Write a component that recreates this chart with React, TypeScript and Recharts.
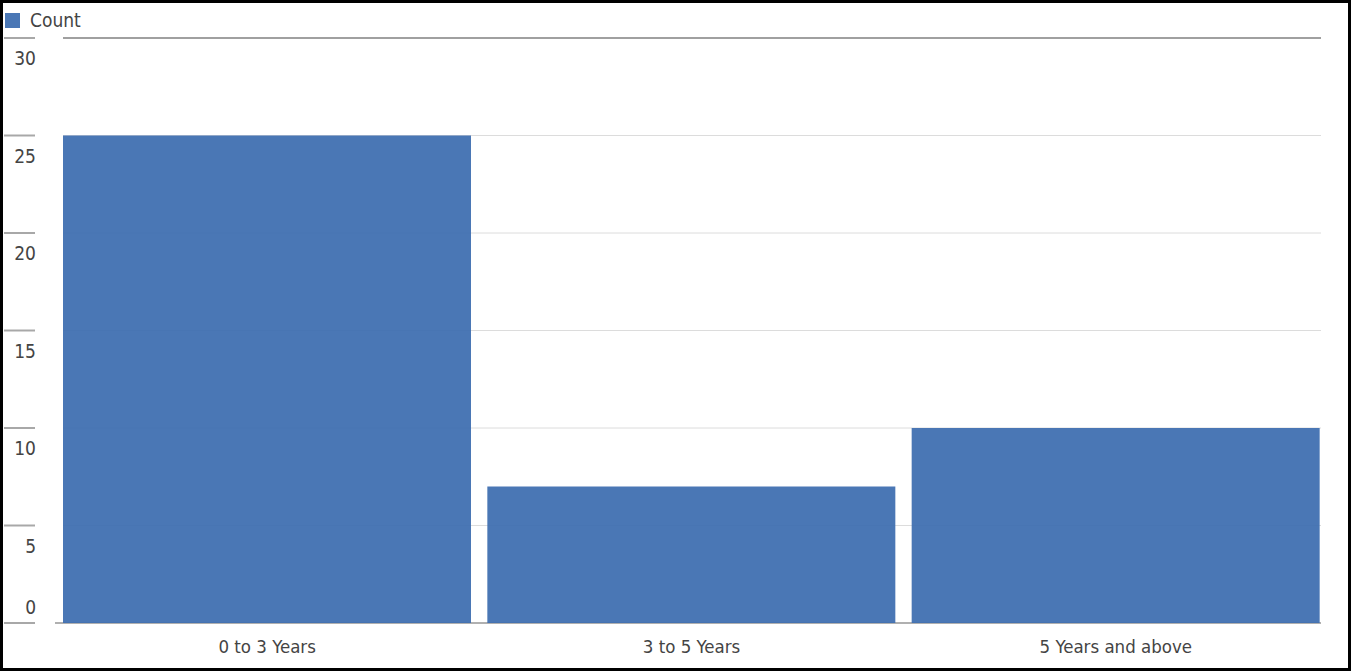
import { BarChart, Bar, XAxis, YAxis, CartesianGrid, Legend } from "recharts";

const categories = ["0 to 3 Years", "3 to 5 Years", "5 Years and above"];
const counts = [25, 7, 10];
const yTicks = [0, 5, 10, 15, 20, 25, 30];

const data = categories.map((name, i) => ({ name, Count: counts[i] }));

const FONT = "'Liberation Sans Narrow', 'DejaVu Sans Condensed', Roboto, sans-serif";
const TEXT = "#444";

const YTick = ({ y, payload }: any) => {
  const isZero = payload.value === 0;
  return (
    <g>
      <line x1={1} x2={32} y1={y} y2={y} stroke="#a8a8a8" strokeWidth={2} />
      <text
        x={33}
        y={isZero ? y - 9 : y + 27}
        textAnchor="end"
        fill={TEXT}
        fontSize={19}
        fontFamily={FONT}
      >
        {payload.value}
      </text>
    </g>
  );
};

const XTick = ({ x, y, payload }: any) => (
  <text
    x={x}
    y={y + 22}
    textAnchor="middle"
    fill={TEXT}
    fontSize={18.5}
    fontFamily={FONT}
  >
    {payload.value}
  </text>
);

const GridLine = (p: any) => {
  const top = p.y != null && Math.abs(p.y1 - p.y) < 1;
  const bottom = p.y != null && p.height != null && Math.abs(p.y1 - (p.y + p.height)) < 1;
  if (bottom) {
    return (
      <line key={p.key} x1={p.x1} x2={p.x2 - 7} y1={p.y1} y2={p.y2} stroke="#b0b0b0" strokeWidth={2} />
    );
  }
  return (
    <line
      key={p.key}
      x1={p.x1 + 8}
      x2={p.x2 - 7}
      y1={p.y1}
      y2={p.y2}
      stroke={top ? "#a0a0a0" : "#dcdcdc"}
      strokeWidth={top ? 2 : 1}
    />
  );
};

const LegendBox = () => (
  <div style={{ display: "flex", alignItems: "center", fontFamily: FONT, fontSize: 19, color: TEXT }}>
    <span style={{ width: 15, height: 15, background: "#4a77b5", marginLeft: 2, marginRight: 10 }} />
    <span>Count</span>
  </div>
);

export default function App() {
  return (
    <div
      style={{
        position: "absolute",
        left: 0,
        top: 0,
        width: 1351,
        height: 671,
        boxSizing: "border-box",
        border: "3px solid #000",
        background: "#fff",
      }}
    >
      <BarChart
        width={1345}
        height={665}
        data={data}
        margin={{ top: 35, right: 20, bottom: 15, left: 0 }}
        barCategoryGap={8}
      >
        <CartesianGrid vertical={false} horizontal={GridLine} />
        <XAxis
          dataKey="name"
          axisLine={false}
          tickLine={false}
          height={30}
          tick={<XTick />}
          interval={0}
        />
        <YAxis
          width={52}
          domain={[0, 30]}
          ticks={yTicks}
          axisLine={false}
          tickLine={false}
          tick={<YTick />}
        />
        <Legend
          verticalAlign="middle"
          align="center"
          content={<LegendBox />}
          wrapperStyle={{ top: 6, left: 0, width: "auto" }}
        />
        <Bar dataKey="Count" fill="#3c6daf" fillOpacity={0.93} isAnimationActive={false} />
      </BarChart>
    </div>
  );
}
